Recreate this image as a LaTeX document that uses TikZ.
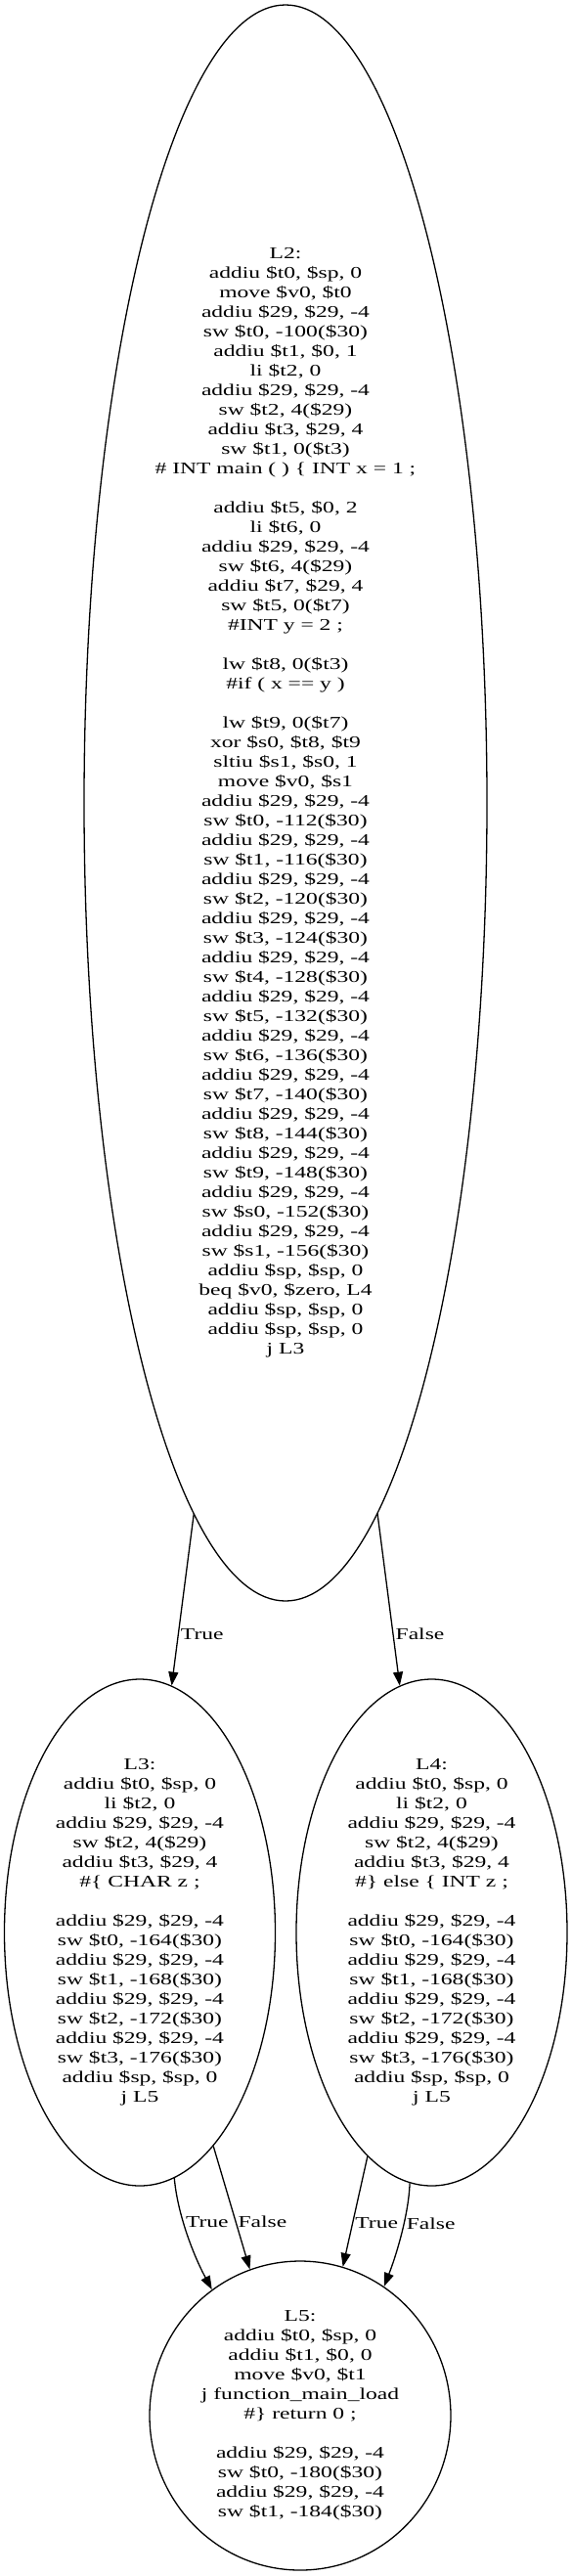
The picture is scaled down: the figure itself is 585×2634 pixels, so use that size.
\documentclass[tikz,border=0pt]{standalone}
\usepackage{fontspec}
\setmainfont{Liberation Serif}[FakeStretch=1.41]
\usetikzlibrary{arrows.meta,shapes.geometric}
\newcommand\gvfont{\fontsize{16.7pt}{20pt}\selectfont}
\begin{document}
\begin{tikzpicture}[x=1pt,y=-1pt,
  blk/.style={ellipse, draw, line width=1.3pt, inner sep=0pt, align=center, font=\gvfont},
  edg/.style={line width=1.3pt, -{Triangle[length=14pt,width=10pt]}},
  lbl/.style={font=\gvfont, inner sep=2pt, anchor=west}]
\fill[white] (0,0) rectangle (585,2634);
\useasboundingbox (0,0) rectangle (585,2634);

\node[blk, minimum width=412pt, minimum height=1632pt] (L2) at (292,821) {L2:\\
addiu \$t0, \$sp, 0\\
move \$v0, \$t0\\
addiu \$29, \$29, -4\\
sw \$t0, -100(\$30)\\
addiu \$t1, \$0, 1\\
li \$t2, 0\\
addiu \$29, \$29, -4\\
sw \$t2, 4(\$29)\\
addiu \$t3, \$29, 4\\
sw \$t1, 0(\$t3)\\
\# INT main ( ) \{ INT x = 1 ;\\[20pt]
addiu \$t5, \$0, 2\\
li \$t6, 0\\
addiu \$29, \$29, -4\\
sw \$t6, 4(\$29)\\
addiu \$t7, \$29, 4\\
sw \$t5, 0(\$t7)\\
\#INT y = 2 ;\\[20pt]
lw \$t8, 0(\$t3)\\
\#if ( x == y )\\[20pt]
lw \$t9, 0(\$t7)\\
xor \$s0, \$t8, \$t9\\
sltiu \$s1, \$s0, 1\\
move \$v0, \$s1\\
addiu \$29, \$29, -4\\
sw \$t0, -112(\$30)\\
addiu \$29, \$29, -4\\
sw \$t1, -116(\$30)\\
addiu \$29, \$29, -4\\
sw \$t2, -120(\$30)\\
addiu \$29, \$29, -4\\
sw \$t3, -124(\$30)\\
addiu \$29, \$29, -4\\
sw \$t4, -128(\$30)\\
addiu \$29, \$29, -4\\
sw \$t5, -132(\$30)\\
addiu \$29, \$29, -4\\
sw \$t6, -136(\$30)\\
addiu \$29, \$29, -4\\
sw \$t7, -140(\$30)\\
addiu \$29, \$29, -4\\
sw \$t8, -144(\$30)\\
addiu \$29, \$29, -4\\
sw \$t9, -148(\$30)\\
addiu \$29, \$29, -4\\
sw \$s0, -152(\$30)\\
addiu \$29, \$29, -4\\
sw \$s1, -156(\$30)\\
addiu \$sp, \$sp, 0\\
beq \$v0, \$zero, L4\\
addiu \$sp, \$sp, 0\\
addiu \$sp, \$sp, 0\\
j L3};

\node[blk, minimum width=277pt, minimum height=518pt] (L3) at (143,1976) {L3:\\
addiu \$t0, \$sp, 0\\
li \$t2, 0\\
addiu \$29, \$29, -4\\
sw \$t2, 4(\$29)\\
addiu \$t3, \$29, 4\\
\#\{ CHAR z ;\\[20pt]
addiu \$29, \$29, -4\\
sw \$t0, -164(\$30)\\
addiu \$29, \$29, -4\\
sw \$t1, -168(\$30)\\
addiu \$29, \$29, -4\\
sw \$t2, -172(\$30)\\
addiu \$29, \$29, -4\\
sw \$t3, -176(\$30)\\
addiu \$sp, \$sp, 0\\
j L5};

\node[blk, minimum width=277pt, minimum height=518pt] (L4) at (441.5,1976) {L4:\\
addiu \$t0, \$sp, 0\\
li \$t2, 0\\
addiu \$29, \$29, -4\\
sw \$t2, 4(\$29)\\
addiu \$t3, \$29, 4\\
\#\} else \{ INT z ;\\[20pt]
addiu \$29, \$29, -4\\
sw \$t0, -164(\$30)\\
addiu \$29, \$29, -4\\
sw \$t1, -168(\$30)\\
addiu \$29, \$29, -4\\
sw \$t2, -172(\$30)\\
addiu \$29, \$29, -4\\
sw \$t3, -176(\$30)\\
addiu \$sp, \$sp, 0\\
j L5};

\node[blk, minimum width=308pt, minimum height=316pt] (L5) at (307,2470) {L5:\\
addiu \$t0, \$sp, 0\\
addiu \$t1, \$0, 0\\
move \$v0, \$t1\\
j function\_main\_load\\
\#\} return 0 ;\\[20pt]
addiu \$29, \$29, -4\\
sw \$t0, -180(\$30)\\
addiu \$29, \$29, -4\\
sw \$t1, -184(\$30)};

\draw[edg] (L2) -- (L3) node[lbl, pos=0.7] (lT2) {True};
\draw[edg] (L2) -- (L4) node[lbl, pos=0.7] (lF2) {False};
\draw[edg] (L3.-82.3) .. controls +(3,35) and +(-20,-37) .. (L5.125.1) node[lbl, pos=0.4] (lT3) {True};
\draw[edg] (L3.-71.6) -- (L5.109.2) node[lbl, pos=0.61] (lF3) {False};
\draw[edg] (L4.-106) -- (L5.74.9) node[lbl, pos=0.6] (lT4) {True};
\draw[edg] (L4.-95.3) .. controls +(-1,31) and +(13,-33) .. (L5.57.2) node[lbl, pos=0.4] (lF4) {False};
\end{tikzpicture}
\end{document}
